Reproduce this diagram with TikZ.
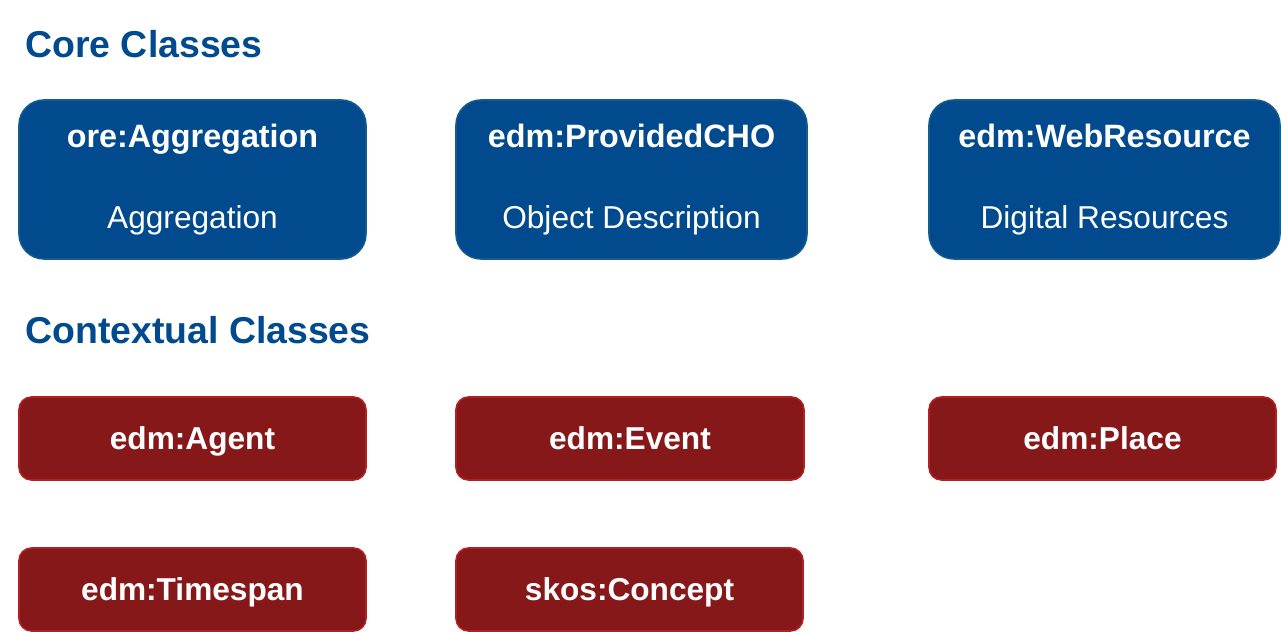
\documentclass[tikz,border=0pt]{standalone}
\usepackage{fontspec}
\setmainfont{Liberation Sans}
\usetikzlibrary{positioning}

\definecolor{coreblue}{RGB}{0,74,141}
\definecolor{coreedge}{RGB}{20,92,140}
\definecolor{ctxred}{RGB}{135,24,25}
\definecolor{ctxedge}{RGB}{178,32,36}

\begin{document}
\begin{tikzpicture}[
    heading/.style={anchor=base west, inner sep=0pt, text=coreblue, font=\fontsize{21.3}{25}\selectfont\bfseries},
    core/.style={rectangle, rounded corners=0.5cm, draw=coreedge, line width=0.9pt, fill=coreblue, text=white, minimum height=3.18cm, align=center, font=\fontsize{18}{45.8}\selectfont},
    ctx/.style={rectangle, rounded corners=0.25cm, draw=ctxedge, line width=0.9pt, fill=ctxred, text=white, minimum height=1.66cm, text height=16pt, text depth=3.6pt, font=\fontsize{18}{22}\selectfont\bfseries}
]
\useasboundingbox (0,0) rectangle (25.62,12.64);

% Headings
\node[heading] (coreh) at (0.5,11.49) {Core Classes};
\node[heading] (ctxh) at (0.5,5.77) {Contextual Classes};

% Core classes
\node[core, minimum width=6.94cm] (agg) at (3.85,9.05) {\fontsize{18.4}{45.8}\selectfont\textbf{ore:Aggregation}\\Aggregation};
\node[core, minimum width=7.02cm] (cho) at (12.63,9.05) {\fontsize{18.4}{45.8}\selectfont\textbf{edm:ProvidedCHO}\\Object~Description};
\node[core, minimum width=7.02cm] (web) at (22.09,9.05) {\fontsize{18.4}{45.8}\selectfont\textbf{edm:WebResource}\\Digital~Resources};

% Contextual classes
\node[ctx, minimum width=6.94cm] (agent) at (3.85,3.87) {edm:Agent};
\node[ctx, minimum width=6.96cm] (event) at (12.6,3.87) {edm:Event};
\node[ctx, minimum width=6.94cm] (place) at (22.05,3.87) {edm:Place};
\node[ctx, minimum width=6.94cm] (time) at (3.85,0.85) {edm:Timespan};
\node[ctx, minimum width=6.94cm] (concept) at (12.59,0.85) {skos:Concept};

\end{tikzpicture}
\end{document}
